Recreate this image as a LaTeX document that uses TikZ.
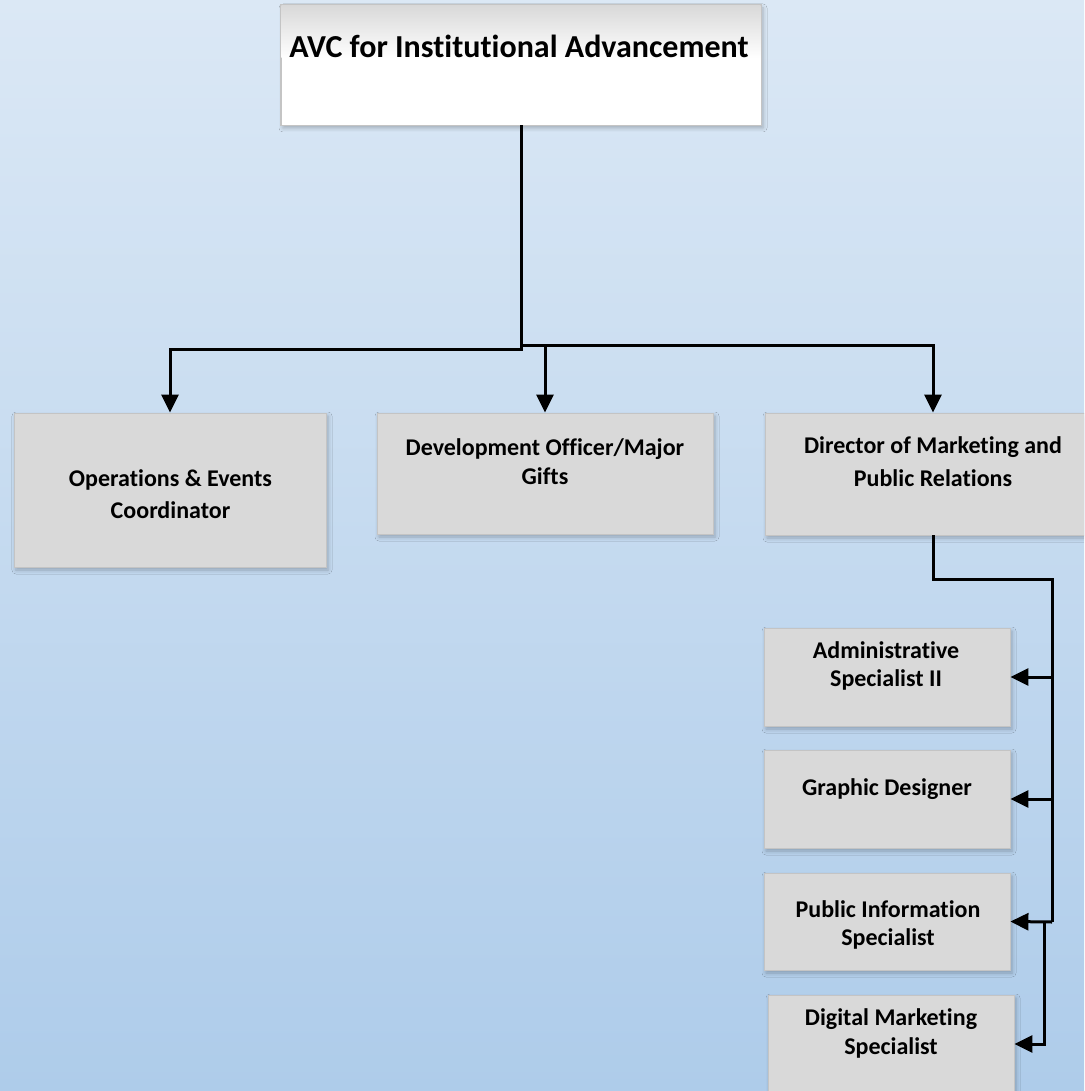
\documentclass[tikz,border=0pt]{standalone}
\usepackage{fontspec}
\setmainfont{Carlito}[Ligatures={NoCommon}]
\usetikzlibrary{arrows.meta,shadows.blur}
\definecolor{bgtop}{HTML}{DBE8F5}
\definecolor{bgbot}{HTML}{AECCEA}
\definecolor{boxfill}{HTML}{D9D9D9}
\definecolor{boxline}{HTML}{C4C4C4}
\tikzset{
  box/.style={rectangle, draw=boxline, line width=0.8pt, fill=boxfill, inner sep=0pt,
    blur shadow={shadow xshift=2pt, shadow yshift=-3pt, shadow blur radius=4pt, shadow opacity=25}},
  topbox/.style={box, fill=white},
  lbl/.style={anchor=base, inner sep=0pt, font=\bfseries\fontsize{24}{31}\selectfont},
  line/.style={line width=3pt, line join=miter},
  conn/.style={line, -{Triangle[length=18pt 0 0,width=17pt 0 0]}},
}
\newcommand{\twoline}[3]{\def\arraystretch{1}\fontsize{24}{#1}\selectfont\begin{tabular}[t]{@{}c@{}}#2\\#3\end{tabular}}
\begin{document}
\begin{tikzpicture}[x=1pt,y=-1pt]
\useasboundingbox (0,0) rectangle (1084,1091);
\clip (0,0) rectangle (1084,1091);
\shade[top color=bgtop, bottom color=bgbot] (0,0) rectangle (1084,1091);

% boxes
\node[topbox, minimum width=480pt, minimum height=120pt] (top) at (521,65) {};
\shade[top color=black!15, bottom color=white] (281.4,5.4) rectangle (760.6,58);
\draw[boxline, line width=0.8pt] (top.north west) rectangle (top.south east);
\node[box, minimum width=312pt, minimum height=154pt] (ops) at (170,490) {};
\node[box, minimum width=336pt, minimum height=121pt] (dev) at (545,473.5) {};
\node[box, minimum width=336pt, minimum height=122pt] (dir) at (933,474) {};
\node[box, minimum width=246pt, minimum height=98pt] (adm) at (887,677) {};
\node[box, minimum width=246pt, minimum height=98pt] (gra) at (887,799) {};
\node[box, minimum width=246pt, minimum height=97pt] (pub) at (887,921.5) {};
\node[box, minimum width=246pt, minimum height=98pt] (dig) at (891,1044) {};

% texts
\node[lbl, font=\bfseries\fontsize{32}{38}\selectfont] (topT) at (519,58) {AVC for Institutional Advancement};
\node[lbl] (opsT) at (170.5,486) {\twoline{32}{Operations \& Events}{Coordinator}};
\node[lbl] (devT) at (545,455) {\twoline{29}{Development Officer/Major}{Gifts}};
\node[lbl] (dirT) at (933,453) {\twoline{33}{Director of Marketing and}{Public Relations}};
\node[lbl] (admT) at (886,658) {\twoline{28.5}{Administrative}{Specialist II}};
\node[lbl] (graT) at (887,795) {Graphic Designer};
\node[lbl] (pubT) at (888,917) {\twoline{28.5}{Public Information}{Specialist}};
\node[lbl] (digT) at (891,1025) {\twoline{29}{Digital Marketing}{Specialist}};

% junction coordinates
\coordinate (jL) at (521,349);
\coordinate (jR) at (521,345);
\coordinate (m1) at (1052,579);
\coordinate (m2) at (1052,922);
\coordinate (a1) at (1052,677);
\coordinate (a2) at (1052,799);
\coordinate (m3) at (1044,922);

% connectors
\draw[conn] (top.south) -- (jL) -| (ops.north);
\draw[conn] (jR) -| (dev.north);
\draw[conn] (jR) -| (dir.north);
\draw[line] (dir.south) |- (m1) -- (m2);
\draw[conn] (a1) -- (adm.east);
\draw[conn] (a2) -- (gra.east);
\draw[conn] (m2) -- (pub.east);
\draw[conn] (m3) |- (dig.east);
\end{tikzpicture}
\end{document}
